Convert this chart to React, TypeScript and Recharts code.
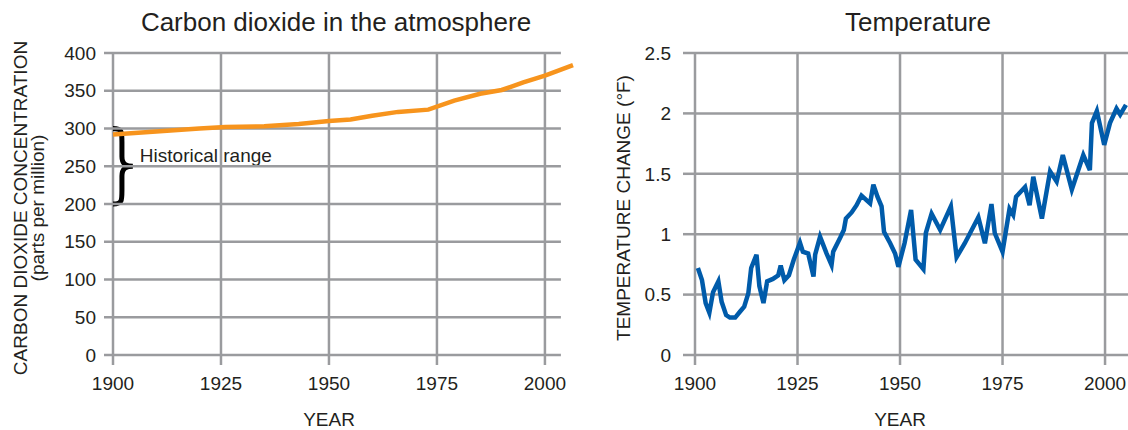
import React from 'react';
import {
  LineChart,
  Line,
  XAxis,
  YAxis,
  CartesianGrid,
  ReferenceLine,
  ReferenceArea,
} from 'recharts';

// ---------- data ----------
const yearTicks = [1900, 1925, 1950, 1975, 2000];
const co2Ticks = [0, 50, 100, 150, 200, 250, 300, 350, 400];
const tempTicks = [0, 0.5, 1, 1.5, 2, 2.5];

const co2Years = [1900, 1910, 1920, 1926, 1935, 1943, 1950, 1955, 1960, 1966, 1973, 1979, 1985, 1990, 1995, 2000, 2006.5];
const co2Values = [292, 296, 300, 302, 303, 306, 310, 312, 317, 322, 325, 337, 346, 351, 361, 370, 384];

const tempYears = [
  1900.7, 1901.7, 1902.6, 1903.5, 1904.4, 1905.7, 1906.5, 1907.6, 1908.5, 1909.8,
  1911.0, 1912.0, 1913.0, 1913.7, 1915.0, 1915.7, 1916.7, 1917.6, 1919.0, 1920.3,
  1920.9, 1921.8, 1922.9, 1924.1, 1925.6, 1926.3, 1927.6, 1928.9, 1929.3, 1930.5,
  1932.1, 1933.3, 1933.7, 1935.4, 1936.3, 1936.8, 1938.2, 1939.4, 1940.6, 1942.7,
  1943.5, 1944.5, 1945.5, 1946.1, 1947.6, 1948.8, 1949.6, 1951.1, 1952.7, 1953.8,
  1955.7, 1956.3, 1957.7, 1959.8, 1962.4, 1963.8, 1965.8, 1969.1, 1970.7, 1972.3,
  1973.1, 1975.0, 1976.7, 1977.6, 1978.3, 1980.5, 1981.6, 1982.5, 1984.6, 1986.6,
  1988.2, 1989.7, 1991.9, 1994.7, 1996.3, 1996.8, 1998.0, 1999.8, 2001.2, 2002.8,
  2003.7, 2005.1,
];
const tempValues = [
  0.72, 0.62, 0.43, 0.35, 0.52, 0.61, 0.44, 0.33, 0.31, 0.31,
  0.36, 0.40, 0.51, 0.72, 0.83, 0.57, 0.43, 0.61, 0.63, 0.66,
  0.74, 0.62, 0.66, 0.79, 0.93, 0.855, 0.84, 0.65, 0.83, 0.98,
  0.84, 0.745, 0.855, 0.97, 1.035, 1.13, 1.18, 1.24, 1.32, 1.255,
  1.41, 1.31, 1.23, 1.02, 0.925, 0.84, 0.73, 0.925, 1.2, 0.79,
  0.71, 1.01, 1.17, 1.035, 1.23, 0.81, 0.925, 1.14, 0.925, 1.25,
  1.01, 0.855, 1.21, 1.16, 1.31, 1.39, 1.24, 1.475, 1.13, 1.52,
  1.435, 1.655, 1.37, 1.655, 1.53, 1.92, 2.02, 1.74, 1.92, 2.04,
  1.99, 2.07,
];

const historicalRange = [200, 300];
const co2GridEnd = 2003.7;

const co2Data = co2Years.map((year, i) => ({ year, co2: co2Values[i] }));
const tempData = tempYears.map((year, i) => ({ year, temp: tempValues[i] }));

// ---------- styles ----------
const FONT = '"Liberation Sans", Arial, sans-serif';
const TEXT = '#231F20';
const GRID = '#9A9B9E';
const ORANGE = '#F7941D';
const BLUE = '#005BAA';

const tickStyle = { fill: TEXT, fontSize: 19, fontFamily: FONT };
const tickLineStyle = { stroke: GRID, strokeWidth: 2.5 };

const Brace = (props: any) => {
  const { x, y, width: w, height: h } = props;
  const mid = y + h / 2;
  const sx = x + w * 0.45;
  const d = [
    `M ${x} ${y}`,
    `C ${sx} ${y} ${sx} ${y + h * 0.04} ${sx} ${y + h * 0.18}`,
    `L ${sx} ${mid - h * 0.13}`,
    `C ${sx} ${mid - h * 0.02} ${x + w * 0.7} ${mid} ${x + w} ${mid}`,
    `C ${x + w * 0.7} ${mid} ${sx} ${mid + h * 0.02} ${sx} ${mid + h * 0.13}`,
    `L ${sx} ${y + h * 0.82}`,
    `C ${sx} ${y + h * 0.96} ${sx} ${y + h} ${x} ${y + h}`,
  ].join(' ');
  return (
    <g>
      <path d={d} fill="none" stroke="#000" strokeWidth={5} />
      <text x={x + w + 7} y={mid - 4} fontSize={19} fontFamily={FONT} fill={TEXT}>
        Historical range
      </text>
    </g>
  );
};

export default function App() {
  return (
    <div style={{ position: 'absolute', left: 0, top: 0, width: 1128, height: 430, background: '#fff', overflow: 'hidden' }}>
      <div style={{ position: 'absolute', left: 0, top: 0 }}>
        <LineChart width={580} height={430} data={co2Data} margin={{ top: 53, right: 7, bottom: 35, left: 0 }}>
          <CartesianGrid horizontal={false} syncWithTicks stroke={GRID} strokeWidth={2.5} />
          <XAxis
            type="number"
            dataKey="year"
            domain={[1900, 2006.5]}
            ticks={yearTicks}
            axisLine={false}
            tickLine={tickLineStyle}
            tickSize={10}
            tickMargin={12}
            height={40}
            tick={tickStyle}
          />
          <YAxis
            type="number"
            domain={[0, 400]}
            ticks={co2Ticks}
            width={113}
            axisLine={false}
            tickLine={tickLineStyle}
            tickSize={9}
            tickMargin={8}
            tick={tickStyle}
          />
          {co2Ticks.map((v) => (
            <ReferenceLine
              key={v}
              segment={[{ x: 1900, y: v }, { x: co2GridEnd, y: v }]}
              stroke={GRID}
              strokeWidth={2.5}
            />
          ))}
          <ReferenceArea
            x1={1900}
            x2={1904.6}
            y1={historicalRange[0]}
            y2={historicalRange[1]}
            shape={Brace}
          />
          <Line
            type="linear"
            dataKey="co2"
            stroke={ORANGE}
            strokeWidth={4.5}
            dot={false}
            activeDot={false}
            isAnimationActive={false}
          />
        </LineChart>
      </div>
      <div style={{ position: 'absolute', left: 580, top: 0 }}>
        <LineChart width={548} height={430} data={tempData} margin={{ top: 53, right: 0, bottom: 35, left: 0 }}>
          <CartesianGrid syncWithTicks stroke={GRID} strokeWidth={2.5} />
          <XAxis
            type="number"
            dataKey="year"
            domain={[1900, 2005.6]}
            ticks={yearTicks}
            axisLine={false}
            tickLine={tickLineStyle}
            tickSize={10}
            tickMargin={12}
            height={40}
            tick={tickStyle}
          />
          <YAxis
            type="number"
            domain={[0, 2.5]}
            ticks={tempTicks}
            width={115}
            axisLine={false}
            tickLine={tickLineStyle}
            tickSize={12}
            tickMargin={12}
            tick={tickStyle}
          />
          <Line
            type="linear"
            dataKey="temp"
            stroke={BLUE}
            strokeWidth={4.5}
            dot={false}
            activeDot={false}
            isAnimationActive={false}
          />
        </LineChart>
      </div>
      <svg
        width={1128}
        height={430}
        style={{ position: 'absolute', left: 0, top: 0, pointerEvents: 'none' }}
        fontFamily={FONT}
        fill={TEXT}
      >
        <text x={336} y={31} fontSize={26} textAnchor="middle">Carbon dioxide in the atmosphere</text>
        <text x={918} y={31} fontSize={26} textAnchor="middle">Temperature</text>
        <text x={329} y={426} fontSize={19} textAnchor="middle">YEAR</text>
        <text x={900} y={426} fontSize={19} textAnchor="middle">YEAR</text>
        <text x={27} y={208} fontSize={19} textAnchor="middle" transform="rotate(-90 27 208)">
          CARBON DIOXIDE CONCENTRATION
        </text>
        <text x={44} y={208} fontSize={19} textAnchor="middle" transform="rotate(-90 44 208)">
          (parts per million)
        </text>
        <text x={630} y={208} fontSize={19} textAnchor="middle" transform="rotate(-90 630 208)">
          TEMPERATURE CHANGE (°F)
        </text>
      </svg>
    </div>
  );
}
